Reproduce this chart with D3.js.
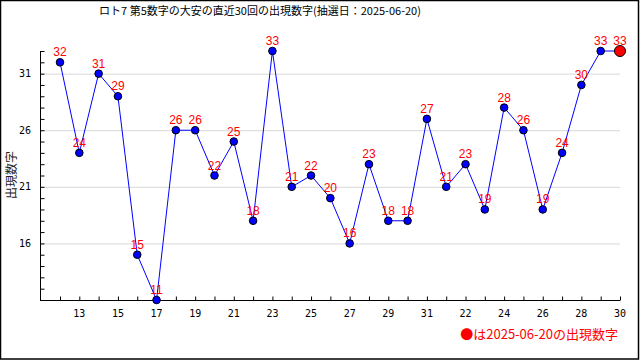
<!DOCTYPE html>
<html><head><meta charset="utf-8">
<script src="https://cdn.jsdelivr.net/npm/d3@7"></script>
<style>body{margin:0;background:#fff}svg{display:block}</style>
</head><body>
<svg id="c" width="640" height="360"></svg>
<script>
const titleText = "ロト7 第5数字の大安の直近30回の出現数字(抽選日：2025-06-20)";
const yTitle = "出現数字";
const legendText = "●は2025-06-20の出現数字";
const categories = ["12","13","14","15","16","17","18","19","20","21","22","23","24","25","26","27","28","29","30","31","21","22","23","24","25","26","27","28","29","30"];
const values = [32,24,31,29,15,11,26,26,22,25,18,33,21,22,20,16,23,18,18,27,21,23,19,28,26,19,24,30,33,33];
const yMajorTicks = [16,21,26,31];
const yDomain = [11,33];

const svg = d3.select("#c");
svg.append("rect").attr("x",0.5).attr("y",0.5).attr("width",638).attr("height",358.5)
  .attr("fill","#fff").attr("stroke","#000").attr("stroke-width",1.5);

const x = d3.scalePoint().domain(d3.range(values.length)).range([60,620]);
const y = d3.scaleLinear().domain(yDomain).range([300,51]);

// gridlines
svg.append("g").selectAll("line").data(yMajorTicks).join("line")
  .attr("x1",40).attr("x2",620).attr("y1",d=>y(d)+0.5).attr("y2",d=>y(d)+0.5)
  .attr("stroke","#d8d8d8").attr("stroke-width",1);

// y axis
const yAxis = d3.axisRight(y).tickValues(d3.range(yDomain[0],yDomain[1]+1)).tickSize(4).tickFormat("");
const gy = svg.append("g").attr("transform","translate(40.5,0)").call(yAxis);
gy.select(".domain").attr("d","M0,"+y(yDomain[1])+"V"+y(yDomain[0])).attr("stroke","#000");
gy.selectAll(".tick line").attr("stroke","#000");
svg.append("g").selectAll("text").data(yMajorTicks).join("text")
  .attr("x",31).attr("y",d=>y(d)).attr("dy","0.35em").attr("text-anchor","end")
  .attr("font-family","DejaVu Sans Mono").attr("font-size",10).attr("fill","#000").text(d=>d);

// x axis
const xAxis = d3.axisTop(x).tickSize(4).tickFormat("");
const gx = svg.append("g").attr("transform","translate(0,300.5)").call(xAxis);
gx.select(".domain").attr("d","M40,0H620").attr("stroke","#000");
gx.selectAll(".tick line").attr("stroke","#000");
svg.append("g").selectAll("text").data(d3.range(values.length).filter(i=>i%2===1)).join("text")
  .attr("x",i=>x(i)).attr("y",317).attr("text-anchor","middle")
  .attr("font-family","DejaVu Sans Mono").attr("font-size",10).attr("fill","#000").text(i=>categories[i]);

// line
svg.append("path").datum(values)
  .attr("d",d3.line().x((d,i)=>x(i)).y(d=>y(d)))
  .attr("fill","none").attr("stroke","#0000ff").attr("stroke-width",1);

// points
svg.append("g").selectAll("circle").data(values).join("circle")
  .attr("cx",(d,i)=>x(i)).attr("cy",d=>y(d))
  .attr("r",(d,i)=>i===values.length-1?5.5:3.8)
  .attr("fill",(d,i)=>i===values.length-1?"#ff0000":"#0000ff")
  .attr("stroke","#000").attr("stroke-width",1);

// labels
svg.append("g").selectAll("text").data(values).join("text")
  .attr("x",(d,i)=>x(i)).attr("y",d=>y(d)-6).attr("text-anchor","middle")
  .attr("font-family","Liberation Sans, Arial, sans-serif").attr("font-size",12)
  .attr("fill","#ff0000").text(d=>d);

// title
svg.append("text").attr("x",260).attr("y",15).attr("text-anchor","middle")
  .attr("font-family","Noto Sans CJK JP").attr("font-size",11).attr("fill","#000").text(titleText);

// y title
svg.append("text").attr("transform","translate(16,175) rotate(-90)").attr("text-anchor","middle")
  .attr("font-family","Noto Sans CJK JP").attr("font-size",12).attr("fill","#222").text(yTitle);

// legend
svg.append("text").attr("x",618).attr("y",339).attr("text-anchor","end")
  .attr("font-family","Noto Sans CJK JP").attr("font-size",13).attr("fill","#ff0000").text(legendText);
</script>
</body></html>
